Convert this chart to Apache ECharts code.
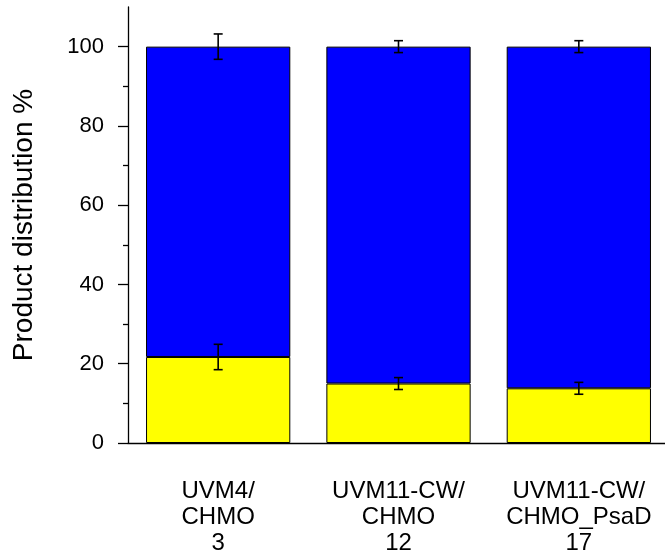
<!DOCTYPE html>
<html>
<head>
<meta charset="utf-8">
<script src="https://cdn.jsdelivr.net/npm/echarts@6/dist/echarts.min.js"></script>
<style>
  html, body { margin: 0; padding: 0; background: #fff; }
  #chart { width: 665px; height: 554px; }
</style>
</head>
<body>
<div id="chart"></div>
<script>
  // values
  const categories = ['UVM4/\nCHMO\n3', 'UVM11-CW/\nCHMO\n12', 'UVM11-CW/\nCHMO_PsaD\n17'];
  const yellowValues = [21.7, 15.0, 13.8];
  const blueValues = [78.3, 85.0, 86.2];
  const yellowErr = [3.2, 1.5, 1.5];
  const totalValues = [100, 100, 100];
  const totalErr = [3.2, 1.5, 1.5];
  const majorTicks = [0, 20, 40, 60, 80, 100];
  const minorTicks = [10, 30, 50, 70, 90];

  const font = 'Liberation Sans, Arial, sans-serif';

  // error bar points: [category index, value, error]
  const errData = [];
  for (let i = 0; i < categories.length; i++) {
    errData.push([i, yellowValues[i], yellowErr[i]]);
    errData.push([i, totalValues[i], totalErr[i]]);
  }

  function renderErr(params, api) {
    const x = api.value(0);
    const v = api.value(1);
    const e = api.value(2);
    const hi = api.coord([x, v + e]);
    const lo = api.coord([x, v - e]);
    const cap = 4.5;
    const style = {stroke: '#000', lineWidth: 1.6};
    return {
      type: 'group',
      children: [
        {type: 'line', shape: {x1: hi[0], y1: hi[1], x2: lo[0], y2: lo[1]}, style: style},
        {type: 'line', shape: {x1: hi[0] - cap, y1: hi[1], x2: hi[0] + cap, y2: hi[1]}, style: style},
        {type: 'line', shape: {x1: lo[0] - cap, y1: lo[1], x2: lo[0] + cap, y2: lo[1]}, style: style},
      ],
    };
  }

  const chart = echarts.init(document.getElementById('chart'));
  chart.setOption({
    animation: false,
    grid: {left: 128, right: -4, top: 7, bottom: 111, outerBoundsMode: 'none'},
    xAxis: [
      {
        type: 'category',
        data: categories,
        position: 'bottom',
        axisLine: {lineStyle: {color: '#000', width: 1.3}},
        axisTick: {alignWithLabel: true, length: 9, lineStyle: {color: '#000', width: 1.3}},
        axisLabel: {
          interval: 0,
          color: '#000', fontFamily: font, fontSize: 24, lineHeight: 26, margin: 35,
          align: 'center',
        },
      },
      {
        type: 'category',
        data: categories,
        position: 'bottom',
        axisLine: {show: false},
        axisTick: {interval: 0, length: 4, lineStyle: {color: '#000', width: 1.3}},
        axisLabel: {show: false},
      },
    ],
    yAxis: [
      {
        type: 'value',
        min: 0,
        max: 110,
        interval: 20,
        name: 'Product distribution %',
        nameLocation: 'middle',
        nameGap: 90,
        nameTextStyle: {color: '#000', fontFamily: font, fontSize: 28},
        splitLine: {show: false},
        axisLine: {show: true, lineStyle: {color: '#000', width: 1.3}},
        axisTick: {show: true, length: 10, customValues: majorTicks, lineStyle: {color: '#000', width: 1.3}},
        axisLabel: {customValues: majorTicks, color: '#000', fontFamily: font, fontSize: 22, margin: 24},
      },
      {
        type: 'value',
        min: 0,
        max: 110,
        position: 'left',
        splitLine: {show: false},
        axisLine: {show: false},
        axisTick: {show: true, length: 5, customValues: minorTicks, lineStyle: {color: '#000', width: 1.3}},
        axisLabel: {show: false},
      },
    ],
    series: [
      {
        name: 'yellow',
        type: 'bar',
        stack: 'total',
        barWidth: '80%',
        data: yellowValues,
        itemStyle: {color: '#FFFF00', borderColor: '#000', borderWidth: 1},
      },
      {
        name: 'blue',
        type: 'bar',
        stack: 'total',
        barWidth: '80%',
        data: blueValues,
        itemStyle: {color: '#0000FF', borderColor: '#000', borderWidth: 1},
      },
      {
        type: 'custom',
        renderItem: renderErr,
        data: errData,
        z: 10,
      },
    ],
  });
</script>
</body>
</html>
